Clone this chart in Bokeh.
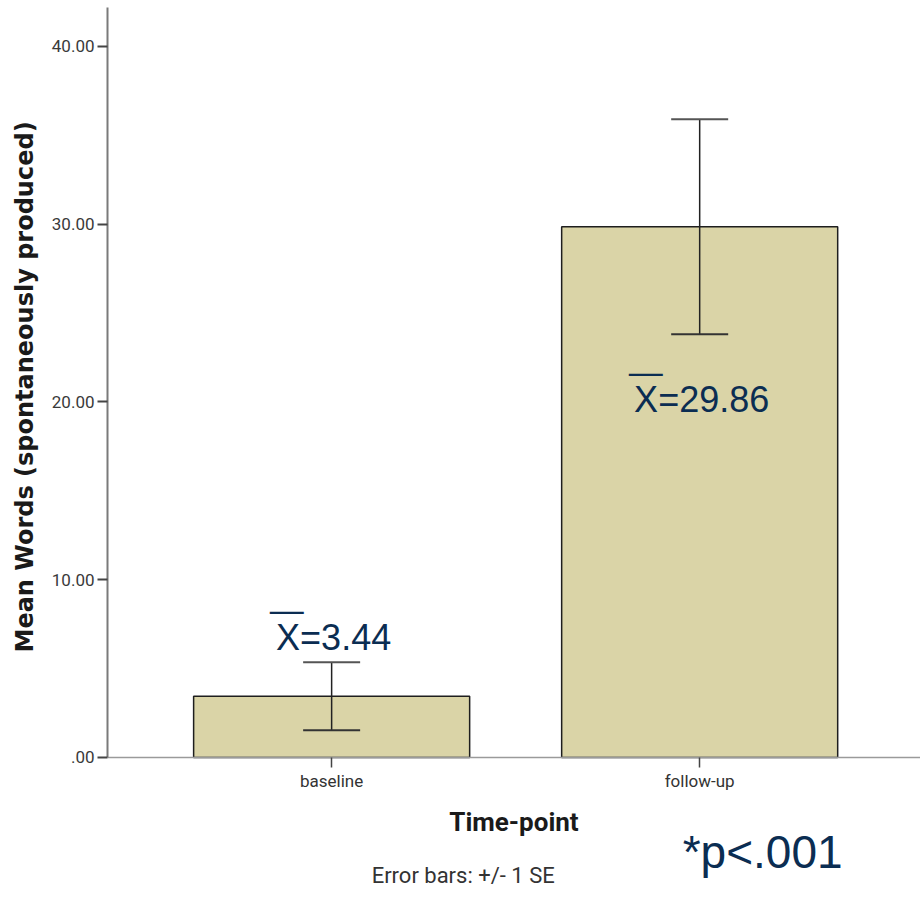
from bokeh.plotting import figure
from bokeh.models import Range1d, FixedTicker, Whisker, TeeHead, ColumnDataSource, Label, Title
from bokeh.embed import file_html
from bokeh.resources import INLINE

# ---- data ----
categories = ["baseline", "follow-up"]
means = [3.44, 29.86]
se = [1.91, 6.05]
y_ticks = [0, 10, 20, 30, 40]
y_tick_labels = [".00", "10.00", "20.00", "30.00", "40.00"]
y_title = "Mean Words (spontaneously produced)"
x_title = "Time-point"
p_text = "*p<.001"
err_note = "Error bars: +/- 1 SE"

xs = list(range(len(categories)))
src = ColumnDataSource(dict(
    x=xs,
    top=means,
    upper=[m + s for m, s in zip(means, se)],
    lower=[m - s for m, s in zip(means, se)],
))

NAVY = "#0b2d52"

Y_TOP = 42.19
Y_BOTTOM = -8.44   # room under the x axis for axis texts and notes

p = figure(width=920, height=907,
           x_range=Range1d(-0.609, 1.6), y_range=Range1d(Y_BOTTOM, Y_TOP),
           output_backend="svg", toolbar_location=None,
           min_border_left=107, min_border_right=0,
           min_border_top=7, min_border_bottom=0)
p.outline_line_color = None
p.grid.visible = False
p.background_fill_color = "white"
p.border_fill_color = "white"

p.vbar(x="x", top="top", width=0.75, source=src,
       fill_color="#dad4a7", line_color="#1e1e1e", line_width=1.5)

w = Whisker(source=src, base="x", upper="upper", lower="lower",
            line_color="#222222", line_width=1.5, level="overlay",
            upper_head=TeeHead(size=57, line_color="#555555", line_width=2),
            lower_head=TeeHead(size=57, line_color="#333333", line_width=2))
p.add_layout(w)

# ---- axes ----
xa = p.xaxis[0]
xa.fixed_location = 0
xa.ticker = FixedTicker(ticks=xs)
xa.major_label_overrides = {i: c for i, c in zip(xs, categories)}
xa.axis_label = x_title
xa.axis_label_text_font = "Roboto"
xa.axis_label_text_font_style = "bold"
xa.axis_label_text_font_size = "26px"
xa.axis_label_text_color = "#1a1a1a"
xa.axis_label_standoff = 12
xa.major_label_text_font = "Roboto"
xa.major_label_text_font_size = "17px"
xa.major_label_text_color = "#333333"
xa.major_label_standoff = 4
xa.axis_line_color = "#9a9a9a"
xa.axis_line_width = 1.5
xa.major_tick_line_color = "#444444"
xa.major_tick_line_width = 1.5
xa.major_tick_out = 10
xa.major_tick_in = 0
xa.minor_tick_line_color = None

ya = p.yaxis[0]
ya.bounds = (0, Y_TOP)
ya.ticker = FixedTicker(ticks=y_ticks)
ya.major_label_overrides = {t: l for t, l in zip(y_ticks, y_tick_labels)}
ya.major_label_text_font = "Roboto"
ya.major_label_text_font_size = "17px"
ya.major_label_text_color = "#3a3a3a"
ya.major_label_standoff = 3
ya.axis_line_color = "#7a7a7a"
ya.axis_line_width = 2
ya.major_tick_line_color = "#444444"
ya.major_tick_line_width = 2
ya.major_tick_out = 10
ya.major_tick_in = 0
ya.minor_tick_line_color = None

# y-axis title as a side title so it can be centred on the 0..42 part of the axis
p.add_layout(Title(text=y_title, align="left", offset=255, vertical_align="middle",
                   standoff=17, text_font="DejaVu Sans", text_font_style="bold",
                   text_font_size="24px", text_color="#1a1a1a"), "left")

# ---- mean annotations ----
mean_anchor_y = [means[0] + se[0], means[1] - se[1]]
mean_offsets = [25, -65]
overline_offsets = [53, -37]
overline_x = [-62, -71]
for i, m in enumerate(means):
    p.add_layout(Label(x=xs[i], y=mean_anchor_y[i], x_offset=2, y_offset=mean_offsets[i],
                       text=f"X={m:.2f}", text_align="center", text_baseline="alphabetic",
                       text_font="Liberation Sans", text_font_size="36px", text_color=NAVY))
    p.add_layout(Label(x=xs[i], y=mean_anchor_y[i], x_offset=overline_x[i],
                       y_offset=overline_offsets[i],
                       text="\u2014", text_align="left", text_baseline="alphabetic",
                       text_font="Liberation Sans", text_font_size="34px", text_color=NAVY))

p.add_layout(Label(x=xs[1], y=0, x_offset=-17, y_offset=-95, text=p_text,
                   text_align="left", text_baseline="alphabetic",
                   text_font="Liberation Sans", text_font_size="46px", text_color=NAVY))

p.add_layout(Label(x=xs[0], y=0, x_offset=40, y_offset=-118, text=err_note,
                   text_align="left", text_baseline="alphabetic",
                   text_font="Roboto", text_font_size="22px", text_color="#333333"))

open("out.html", "w").write(file_html(p, INLINE))
